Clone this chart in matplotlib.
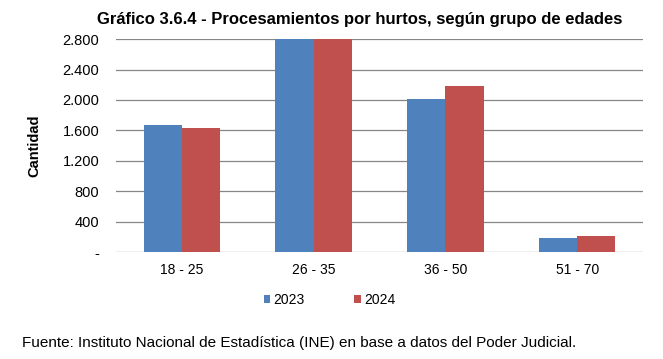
import matplotlib
matplotlib.use("Agg")
import matplotlib.pyplot as plt
import numpy as np

plt.rcParams['font.family'] = ['Liberation Sans', 'DejaVu Sans']

## data
grupos = ['18 - 25', '26 - 35', '36 - 50', '51 - 70']
v2023 = [1670, 2950, 2010, 185]
v2024 = [1630, 2950, 2180, 210]
anios = ['2023', '2024']
colores = ['#4f81bd', '#c0504d']

fig = plt.figure(figsize=(6.63, 3.59), dpi=100)
ax = fig.add_axes([0.175, 0.298, 0.795, 0.593])

x = np.arange(len(grupos))
w = 0.29
ax.bar(x - w/2, v2023, w, color=colores[0], label=anios[0], zorder=3)
ax.bar(x + w/2, v2024, w, color=colores[1], label=anios[1], zorder=3)

ax.set_xlim(-0.5, len(grupos) - 0.5)
ax.set_ylim(0, 2800)
yt = np.arange(0, 2801, 400)
ax.set_yticks(yt)
ax.set_yticklabels(['-'] + [f'{v:,}'.replace(',', '.') for v in yt[1:]], fontsize=10.5)
ax.set_xticks(x)
ax.set_xticklabels(grupos, fontsize=10)
ax.tick_params(length=0, pad=8)
ax.tick_params(axis='y', pad=12)
ax.yaxis.grid(True, color='#868686', linewidth=0.9, zorder=0)
for s in ax.spines.values():
    s.set_visible(False)

ax.set_ylabel('Cantidad', fontsize=10.5, fontweight='bold', labelpad=15)
fig.text(0.543, 0.947, 'Gráfico 3.6.4 - Procesamientos por hurtos, según grupo de edades',
         ha='center', va='center', fontsize=12, fontweight='bold')
ax.legend(loc='upper center', bbox_to_anchor=(0.405, -0.135), ncol=2, frameon=False,
          fontsize=10, handlelength=0.5, handleheight=0.5, handletextpad=0.2, columnspacing=3.6)
fig.text(0.033, 0.045, 'Fuente: Instituto Nacional de Estadística (INE) en base a datos del Poder Judicial.',
         ha='left', va='center', fontsize=11)

fig.savefig('out.png', dpi=100)
